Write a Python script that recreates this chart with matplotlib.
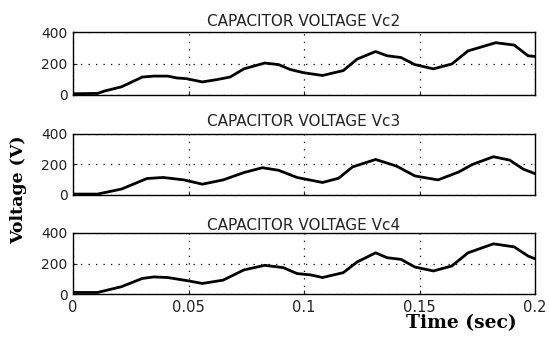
import matplotlib
matplotlib.use("Agg")
import matplotlib.pyplot as plt

# Time samples (s) and voltages (V)
t_vc2 = [0.0, 0.0106, 0.0136, 0.021, 0.030, 0.035, 0.041, 0.045, 0.049, 0.056, 0.062, 0.068,
         0.074, 0.083, 0.089, 0.094, 0.100, 0.108, 0.117, 0.123, 0.131, 0.136, 0.142, 0.148,
         0.156, 0.164, 0.171, 0.183, 0.191, 0.197, 0.200]
vc2 = [8, 10, 25, 52, 114, 120, 120, 108, 104, 83, 97, 114,
       166, 203, 193, 162, 141, 124, 155, 228, 276, 249, 238, 193,
       166, 197, 280, 332, 317, 249, 245]

t_vc3 = [0.0, 0.0106, 0.021, 0.032, 0.039, 0.048, 0.056, 0.065, 0.074, 0.082, 0.089, 0.097,
         0.108, 0.115, 0.121, 0.131, 0.140, 0.148, 0.158, 0.167, 0.173, 0.182, 0.189, 0.195, 0.200]
vc3 = [6, 6, 39, 108, 115, 99, 71, 99, 147, 179, 162, 115,
       82, 110, 184, 233, 190, 125, 99, 151, 201, 251, 229, 169, 140]

t_vc4 = [0.0, 0.0106, 0.021, 0.030, 0.035, 0.041, 0.050, 0.056, 0.065, 0.074, 0.083, 0.091,
         0.097, 0.103, 0.108, 0.117, 0.123, 0.131, 0.136, 0.142, 0.148, 0.156, 0.164, 0.171,
         0.182, 0.191, 0.197, 0.200]
vc4 = [10, 10, 48, 102, 112, 108, 86, 69, 91, 158, 188, 173,
       134, 125, 108, 140, 210, 270, 238, 227, 177, 151, 184, 270,
       329, 309, 249, 231]

titles = ["CAPACITOR VOLTAGE Vc2", "CAPACITOR VOLTAGE Vc3", "CAPACITOR VOLTAGE Vc4"]
x_ticks = [0, 0.05, 0.1, 0.15, 0.2]
x_ticklabels = ["0", "0.05", "0.1", "0.15", "0.2"]
y_ticks = [0, 200, 400]
y_ticklabels = ["0", "200", "400"]

series = [(t_vc2, vc2), (t_vc3, vc3), (t_vc4, vc4)]

W, H = 549, 338
fig = plt.figure(figsize=(W / 100, H / 100), dpi=100)
# axes boxes in pixels: (left, top, right, bottom)
boxes = [(73, 32, 535, 95), (73, 134, 535, 195), (73, 233, 535, 294)]
title_pads = [4, 6, 1]

for i, ((l, tp, r, b), (tt, vv), title) in enumerate(zip(boxes, series, titles)):
    ax = fig.add_axes([l / W, 1 - b / H, (r - l) / W, (b - tp) / H])
    ax.plot(tt, vv, color="black", lw=2.0, solid_joinstyle="round")
    ax.set_xlim(0, 0.2)
    ax.set_ylim(0, 400)
    ax.set_xticks(x_ticks)
    ax.set_yticks(y_ticks)
    ax.set_yticklabels(y_ticklabels, fontsize=10)
    if i == 2:
        ax.set_xticklabels(x_ticklabels, fontsize=10.5)
    else:
        ax.set_xticklabels([])
    ax.tick_params(direction="in", length=3, width=0.8, pad=4, colors="#222222")
    ax.grid(True, color="black", linestyle=(0, (1, 5)), linewidth=0.9)
    for s in ax.spines.values():
        s.set_linewidth(1.0)
    ax.set_title(title, fontsize=11, pad=title_pads[i], color="#222222")

fig.text(19 / W, 1 - 190 / H, "Voltage (V)", rotation=90, ha="center", va="center",
         fontsize=12.5, fontweight="bold", family="DejaVu Serif")
fig.text(461 / W, 1 - 328 / H, "Time (sec)", ha="center", va="baseline",
         fontsize=13.5, fontweight="bold", family="DejaVu Serif")

fig.savefig("out.png", dpi=100)
